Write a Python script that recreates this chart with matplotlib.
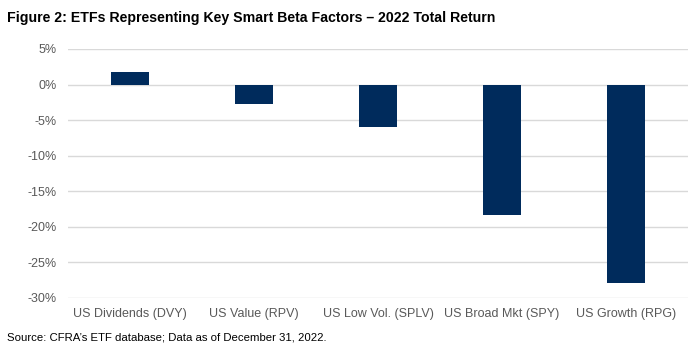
import matplotlib
matplotlib.use("Agg")
import matplotlib.pyplot as plt
from matplotlib.ticker import FuncFormatter
from matplotlib import font_manager

categories = ["US Dividends (DVY)", "US Value (RPV)", "US Low Vol. (SPLV)",
              "US Broad Mkt (SPY)", "US Growth (RPG)"]
returns = [1.8, -2.8, -5.9, -18.4, -27.9]
yticks = [5, 0, -5, -10, -15, -20, -25, -30]

plt.rcParams['font.family'] = ['Liberation Sans', 'DejaVu Sans']
names = {f.name for f in font_manager.fontManager.ttflist}
title_family = ['Liberation Sans Narrow', 'Liberation Sans'] if 'Liberation Sans Narrow' in names else ['Liberation Sans']
title_size = 12 if 'Liberation Sans Narrow' in names else 10.2

fig = plt.figure(figsize=(7, 3.55), dpi=100)
ax = fig.add_axes([0.097, 0.1606, 0.886, 0.7014])

x = range(len(categories))
ax.bar(x, returns, width=0.31, color="#002b5c", zorder=3)
ax.set_ylim(-30, 5)
ax.set_xlim(-0.5, len(categories) - 0.5)
ax.set_yticks(yticks)
ax.yaxis.set_major_formatter(FuncFormatter(lambda v, p: f"{int(v)}%"))
ax.set_xticks(list(x))
ax.set_xticklabels(categories)
ax.grid(axis="y", color="#d9d9d9", linewidth=1, zorder=0)
for s in ax.spines.values():
    s.set_visible(False)
ax.tick_params(axis="both", length=0, labelsize=9, colors="#595959")
ax.tick_params(axis="y", pad=8)
ax.tick_params(axis="x", pad=7)

fig.text(0.01, 0.95, "Figure 2: ETFs Representing Key Smart Beta Factors \u2013 2022 Total Return",
         fontsize=title_size, fontweight="bold", color="#000000", va="center", ha="left",
         family=title_family)
fig.text(0.01, 0.05, "Source: CFRA\u2019s ETF database; Data as of December 31, 2022.",
         fontsize=8.2, color="#000000", va="center", ha="left")

fig.savefig("out.png", dpi=100)
